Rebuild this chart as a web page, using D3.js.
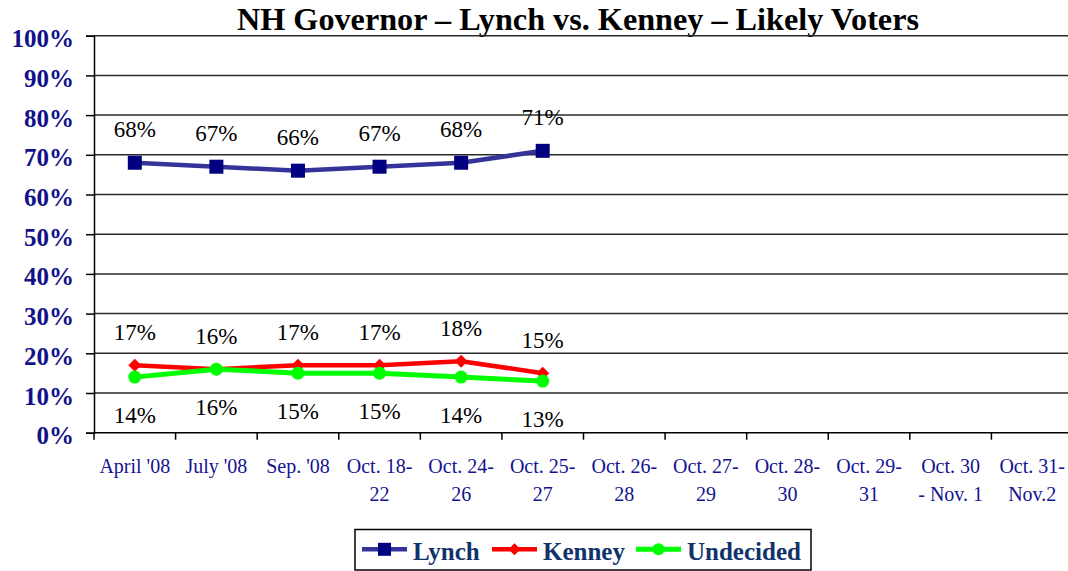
<!DOCTYPE html>
<html>
<head>
<meta charset="utf-8">
<script src="https://cdn.jsdelivr.net/npm/d3@7"></script>
<style>
  html, body { margin: 0; padding: 0; background: #fff; }
  svg { display: block; }
</style>
</head>
<body>
<svg id="chart" width="1068" height="571"></svg>
<script>
// ---- data ----
const title = "NH Governor \u2013 Lynch vs. Kenney \u2013 Likely Voters";
const categoryLines = [
  ["April '08"], ["July '08"], ["Sep. '08"], ["Oct. 18-", "22"], ["Oct. 24-", "26"],
  ["Oct. 25-", "27"], ["Oct. 26-", "28"], ["Oct. 27-", "29"], ["Oct. 28-", "30"],
  ["Oct. 29-", "31"], ["Oct. 30", "- Nov. 1"], ["Oct. 31-", "Nov.2"]
];
const categories = categoryLines.map(l => l.join(" "));
const lynch     = [68, 67, 66, 67, 68, 71];
const kenney    = [17, 16, 17, 17, 18, 15];
const undecided = [14, 16, 15, 15, 14, 13];
const seriesNames = ["Lynch", "Kenney", "Undecided"];
const yTicks = [0, 10, 20, 30, 40, 50, 60, 70, 80, 90, 100];

// ---- layout ----
const svg = d3.select("#chart");
const serif = "'Liberation Serif', 'Times New Roman', serif";
const x = d3.scaleBand().domain(categories).range([94, 1073]).padding(0);
const y = d3.scaleLinear().domain([0, 100]).range([432.7, 35.7]);
const cx = i => x(categories[i]) + x.bandwidth() / 2;

// title
svg.append("text")
  .attr("x", 578).attr("y", 30)
  .attr("text-anchor", "middle")
  .attr("font-family", serif).attr("font-weight", "bold").attr("font-size", 31)
  .attr("textLength", 682).attr("lengthAdjust", "spacingAndGlyphs")
  .attr("fill", "#000").text(title);

// gridlines
svg.append("g").selectAll("line").data(yTicks.filter(d => d > 0)).join("line")
  .attr("x1", 94).attr("x2", 1068)
  .attr("y1", d => y(d)).attr("y2", d => y(d))
  .attr("stroke", "#2a2a2a").attr("stroke-width", 1.5);

// y axis
const yAxis = svg.append("g").attr("transform", "translate(94,0)")
  .call(d3.axisLeft(y).tickValues(yTicks).tickSize(8).tickPadding(12)
    .tickFormat(d => d + "%"));
yAxis.select(".domain").attr("stroke", "#000").attr("stroke-width", 1.5);
yAxis.selectAll(".tick line").attr("stroke", "#000").attr("stroke-width", 1.5);
yAxis.selectAll(".tick text")
  .attr("font-family", serif).attr("font-weight", "bold").attr("font-size", 25)
  .attr("fill", "#11118a").attr("dy", "0.44em");

// x axis line
svg.append("line").attr("x1", 94).attr("x2", 1068)
  .attr("y1", y(0)).attr("y2", y(0))
  .attr("stroke", "#000").attr("stroke-width", 1.5);

// x axis: boundary ticks
const bounds = categories.map(c => x(c)).concat([x.range()[1]]);
svg.append("g").selectAll("line").data(bounds.filter(b => b <= 1068)).join("line")
  .attr("x1", d => d).attr("x2", d => d)
  .attr("y1", y(0)).attr("y2", y(0) + 7)
  .attr("stroke", "#000").attr("stroke-width", 1.5);

// x labels
const xl = svg.append("g").selectAll("text").data(categoryLines).join("text")
  .attr("text-anchor", "middle")
  .attr("font-family", serif).attr("font-size", 20).attr("fill", "#141490");
xl.each(function(lines, i) {
  const t = d3.select(this);
  lines.forEach((ln, k) => {
    t.append("tspan").attr("x", cx(i)).attr("y", 473 + k * 28).text(ln);
  });
});

// line generator
const lineGen = d3.line().x((d, i) => cx(i)).y(d => y(d));

const series = [
  { name: "Lynch", values: lynch, line: "#333399", mark: "#000080", shape: "square", lw: 4.5, labelDy: -26 },
  { name: "Kenney", values: kenney, line: "#ff0000", mark: "#ff0000", shape: "diamond", lw: 4.5, labelDy: -25 },
  { name: "Undecided", values: undecided, line: "#00ff00", mark: "#00ff00", shape: "circle", lw: 5, labelDy: 46 }
];

function drawMarker(g, shape, color, px, py, s) {
  if (shape === "square") {
    g.append("rect").attr("x", px - s / 2).attr("y", py - s / 2)
      .attr("width", s).attr("height", s).attr("fill", color);
  } else if (shape === "diamond") {
    const h = s / 2;
    g.append("path")
      .attr("d", `M${px},${py - h}L${px + h},${py}L${px},${py + h}L${px - h},${py}Z`)
      .attr("fill", color);
  } else {
    g.append("circle").attr("cx", px).attr("cy", py).attr("r", s / 2).attr("fill", color);
  }
}

const markSize = { square: 14, diamond: 13, circle: 13 };

series.forEach(s => {
  const g = svg.append("g");
  g.append("path").datum(s.values).attr("d", lineGen)
    .attr("fill", "none").attr("stroke", s.line).attr("stroke-width", s.lw)
    .attr("stroke-linejoin", "round");
  s.values.forEach((v, i) => drawMarker(g, s.shape, s.mark, cx(i), y(v), markSize[s.shape]));
});

// data labels
series.forEach(s => {
  svg.append("g").selectAll("text").data(s.values).join("text")
    .attr("x", (d, i) => cx(i)).attr("y", d => y(d) + s.labelDy)
    .attr("text-anchor", "middle")
    .attr("font-family", serif).attr("font-size", 23).attr("fill", "#000")
    .text(d => d + "%");
});

// legend
const lg = svg.append("g");
lg.append("rect").attr("x", 355).attr("y", 529.5).attr("width", 456).attr("height", 40.5)
  .attr("fill", "#fff").attr("stroke", "#000").attr("stroke-width", 1.5);
const legendX = [362, 492, 636];
series.forEach((s, k) => {
  const lx = legendX[k], ly = 549.3;
  lg.append("line").attr("x1", lx).attr("x2", lx + 45).attr("y1", ly).attr("y2", ly)
    .attr("stroke", s.line).attr("stroke-width", s.lw);
  drawMarker(lg, s.shape, s.mark, lx + 22.5, ly, s.shape === "square" ? 13 : 12);
  lg.append("text").attr("x", lx + 51).attr("y", 560)
    .attr("font-family", serif).attr("font-weight", "bold").attr("font-size", 25)
    .attr("fill", "#10336b").text(seriesNames[k]);
});
</script>
</body>
</html>
